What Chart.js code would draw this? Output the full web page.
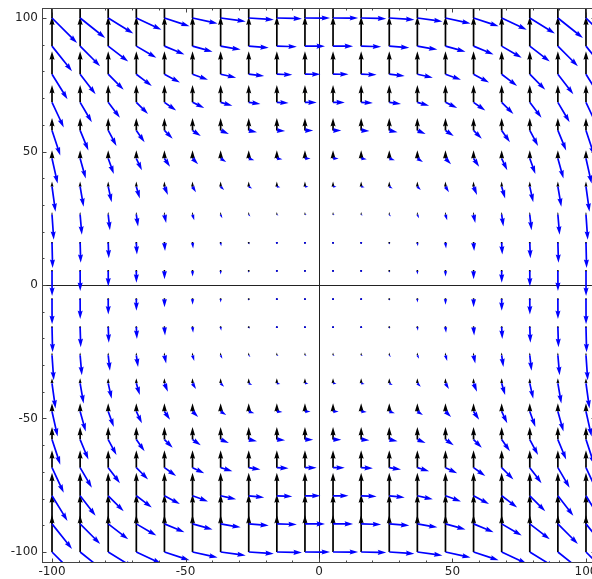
<!DOCTYPE html>
<html>
<head>
<meta charset="utf-8">
<script src="https://cdn.jsdelivr.net/npm/chart.js@4.4.1/dist/chart.umd.min.js"></script>
<style>
  html, body { margin: 0; padding: 0; background: #fff; overflow: hidden; }
  #wrap { width: 600px; height: 579px; }
</style>
</head>
<body>
<div id="wrap"><canvas id="field" width="600" height="579"></canvas></div>
<script>
/*
*Grid of the arrows (20 x 20 points)
*/
const gridX = [-100, -89.47, -78.95, -68.42, -57.89, -47.37, -36.84, -26.32, -15.79, -5.26,
               5.26, 15.79, 26.32, 36.84, 47.37, 57.89, 68.42, 78.95, 89.47, 100];
const gridY = [-100, -89.47, -78.95, -68.42, -57.89, -47.37, -36.84, -26.32, -15.79, -5.26,
               5.26, 15.79, 26.32, 36.84, 47.37, 57.89, 68.42, 78.95, 89.47, 100];

/*
*Arrow components (data units)
*/
// blue field: horizontal part depends on the row, downward part on the column
const blueU = [9.4, 7.5, 5.8, 4.4, 3.1, 2.1, 1.3, 0.65, 0.23, 0.03,
               0.03, 0.23, 0.65, 1.3, 2.1, 3.1, 4.4, 5.8, 7.5, 9.4];
const blueV = [-9.4, -7.5, -5.8, -4.4, -3.1, -2.1, -1.3, -0.65, -0.23, -0.03,
               -0.03, -0.23, -0.65, -1.3, -2.1, -3.1, -4.4, -5.8, -7.5, -9.4];
// black field: upward arrows, length depends on the row
const blackV = [13.9, 11.1, 8.6, 6.5, 4.7, 3.1, 1.9, 1.0, 0.35, 0.04,
                0.04, 0.35, 1.0, 1.9, 3.1, 4.7, 6.5, 8.6, 11.1, 13.9];

/*
*Tick values
*/
const majorTicks = [-100, -50, 0, 50, 100];
const minorTicks = [-90, -80, -70, -60, -40, -30, -20, -10, 10, 20, 30, 40, 60, 70, 80, 90];

const colors = {
    BLUE: '#0000ff',
    BLACK: '#000000',
    FRAME: '#444444'
};

function buildPoints(blue){
    let pts = [];
    for(let j=0;j<gridY.length;j++){
        for(let i=0;i<gridX.length;i++){
            if(blue){
                pts.push({x: gridX[i], y: gridY[j], u: blueU[j], v: blueV[i]});
            }else{
                pts.push({x: gridX[i], y: gridY[j], u: 0, v: blackV[j]});
            }
        }
    }
    return pts;
}

/*
*Draw one quiver-style arrow, tail at (px,py), pixel vector (dx,dy)
*/
const W = 1.7; // shaft width in px
function drawArrow(ctx, px, py, dx, dy){
    const len = Math.hypot(dx, dy) / W;
    ctx.beginPath();
    if(len < 1){
        for(let k=0;k<6;k++){
            const th = k * Math.PI / 3;
            const hx = px + Math.cos(th) * 0.6 * W;
            const hy = py + Math.sin(th) * 0.6 * W;
            if(k === 0) ctx.moveTo(hx, hy); else ctx.lineTo(hx, hy);
        }
        ctx.closePath();
        ctx.fill();
        return;
    }
    let xs, ys;
    if(len < 5){
        const s = len / 5;
        xs = [0, 0.5 * s, 0, 5 * s];
        ys = [0.5 * s, 0.5 * s, 1.5 * s, 0];
    }else{
        xs = [0, len - 4.5, len - 5, len];
        ys = [0.5, 0.5, 1.5, 0];
    }
    const ang = Math.atan2(dy, dx);
    const c = Math.cos(ang), s = Math.sin(ang);
    const poly = [[xs[0], ys[0]], [xs[1], ys[1]], [xs[2], ys[2]], [xs[3], 0],
                  [xs[2], -ys[2]], [xs[1], -ys[1]], [xs[0], -ys[0]]];
    poly.forEach((p, k) => {
        const lx = p[0] * W, ly = p[1] * W;
        const X = px + lx * c - ly * s;
        const Y = py + lx * s + ly * c;
        if(k === 0) ctx.moveTo(X, Y); else ctx.lineTo(X, Y);
    });
    ctx.closePath();
    ctx.fill();
}

const quiverPlugin = {
    id: 'quiver',
    beforeDatasetsDraw(chart){
        const {ctx, chartArea: a, scales} = chart;
        ctx.save();
        ctx.beginPath();
        ctx.rect(a.left, a.top, a.right - a.left, a.bottom - a.top);
        ctx.clip();
        // axes through the origin
        ctx.strokeStyle = '#222';
        ctx.lineWidth = 1;
        const x0 = Math.round(scales.x.getPixelForValue(0)) + 0.5;
        const y0 = Math.round(scales.y.getPixelForValue(0)) + 0.5;
        ctx.beginPath();
        ctx.moveTo(a.left, y0); ctx.lineTo(a.right, y0);
        ctx.moveTo(x0, a.top); ctx.lineTo(x0, a.bottom);
        ctx.stroke();
        // arrows
        chart.data.datasets.forEach(ds => {
            ctx.fillStyle = ds.arrowColor;
            ds.data.forEach(p => {
                const px = scales.x.getPixelForValue(p.x);
                const py = scales.y.getPixelForValue(p.y);
                const dx = scales.x.getPixelForValue(p.x + p.u) - px;
                const dy = scales.y.getPixelForValue(p.y + p.v) - py;
                drawArrow(ctx, px, py, dx, dy);
            });
        });
        ctx.restore();
    },
    afterDraw(chart){
        const {ctx, chartArea: a, scales} = chart;
        ctx.save();
        ctx.strokeStyle = colors.FRAME;
        ctx.lineWidth = 1;
        const L = Math.round(a.left) + 0.5, R = Math.round(a.right) - 0.5;
        const T = Math.round(a.top) + 0.5, B = Math.round(a.bottom) + 0.5;
        ctx.strokeRect(L, T, R - L, B - T);
        ctx.beginPath();
        const tick = (vals, size) => {
            vals.forEach(v => {
                const x = Math.round(scales.x.getPixelForValue(v)) + 0.5;
                ctx.moveTo(x, B); ctx.lineTo(x, B - size);
                ctx.moveTo(x, T); ctx.lineTo(x, T + size);
                const y = Math.round(scales.y.getPixelForValue(v)) + 0.5;
                ctx.moveTo(L, y); ctx.lineTo(L + size, y);
                ctx.moveTo(R, y); ctx.lineTo(R - size, y);
            });
        };
        tick(majorTicks, 4);
        tick(minorTicks, 2);
        ctx.stroke();
        ctx.restore();
    }
};

function noPadding(s){
    s.paddingTop = 0; s.paddingBottom = 0;
    s.paddingLeft = 0; s.paddingRight = 0;
}

function drawField(){
    const ctx = document.getElementById('field').getContext('2d');
    new Chart(ctx, {
        type: 'scatter',
        data: {
            datasets: [
                {label: 'black', data: buildPoints(false), arrowColor: colors.BLACK, pointRadius: 0},
                {label: 'blue', data: buildPoints(true), arrowColor: colors.BLUE, pointRadius: 0}
            ]
        },
        options: {
            responsive: false,
            animation: false,
            events: [],
            layout: {padding: {top: 8, right: 4, left: 0, bottom: 0}},
            plugins: {legend: {display: false}, tooltip: {enabled: false}},
            scales: {
                x: {
                    type: 'linear', min: -103.75, max: 103.75,
                    grid: {display: false, drawTicks: false},
                    border: {display: false},
                    afterBuildTicks: s => { s.ticks = majorTicks.map(v => ({value: v})); },
                    afterFit: s => { s.height = 17; noPadding(s); },
                    ticks: {padding: 3, maxRotation: 0, autoSkip: false,
                            color: '#222', font: {family: 'DejaVu Sans', size: 12}}
                },
                y: {
                    type: 'linear', min: -103.75, max: 103.75,
                    grid: {display: false, drawTicks: false},
                    border: {display: false},
                    afterBuildTicks: s => { s.ticks = majorTicks.map(v => ({value: v})); },
                    afterFit: s => { s.width = 42; noPadding(s); },
                    ticks: {padding: 4, autoSkip: false,
                            color: '#222', font: {family: 'DejaVu Sans', size: 12}}
                }
            }
        },
        plugins: [quiverPlugin]
    });
}

drawField();
</script>
</body>
</html>
